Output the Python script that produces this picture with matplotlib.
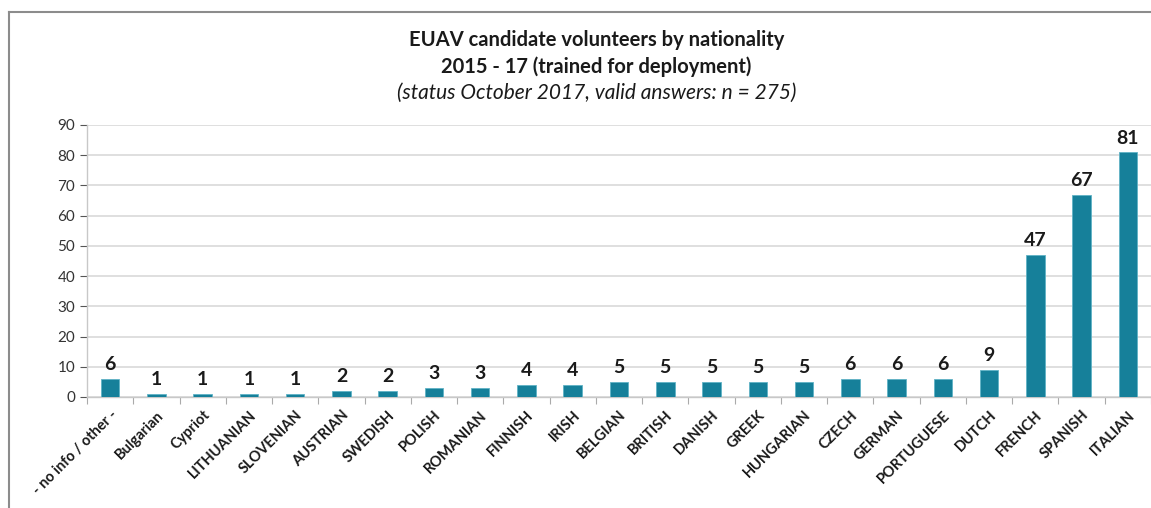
import matplotlib.pyplot as plt
from matplotlib.lines import Line2D
import numpy as np

plt.rcParams['font.family'] = ['Lato', 'DejaVu Sans']

nationalities = ['- no info / other -', 'Bulgarian', 'Cypriot', 'LITHUANIAN', 'SLOVENIAN',
                 'AUSTRIAN', 'SWEDISH', 'POLISH', 'ROMANIAN', 'FINNISH', 'IRISH', 'BELGIAN',
                 'BRITISH', 'DANISH', 'GREEK', 'HUNGARIAN', 'CZECH', 'GERMAN', 'PORTUGUESE',
                 'DUTCH', 'FRENCH', 'SPANISH', 'ITALIAN']
volunteers = [6, 1, 1, 1, 1, 2, 2, 3, 3, 4, 4, 5, 5, 5, 5, 5, 6, 6, 6, 9, 47, 67, 81]
y_ticks = list(range(0, 91, 10))

bar_color = '#16809A'

fig = plt.figure(figsize=(11.51, 5.08), dpi=100)
ax = fig.add_axes([87 / 1151, 1 - 397 / 508, 1 - 87 / 1151, 272 / 508])

x = np.arange(len(nationalities))
ax.bar(x, volunteers, width=0.4, color=bar_color, edgecolor='#5fb3c6', linewidth=0.6, zorder=3)

for xi, v in zip(x, volunteers):
    ax.annotate(str(v), (xi, v), xytext=(0, 4), textcoords='offset points',
                ha='center', va='bottom', fontsize=14, fontweight='bold', color='#1a1a1a')

ax.set_xlim(-0.5, len(nationalities) - 0.5)
ax.set_ylim(0, 90)
ax.set_yticks(y_ticks)
ax.tick_params(axis='y', labelsize=11, colors='#555555', labelcolor='#333333', length=5, width=0.8)
ax.grid(axis='y', color='#d9d9d9', linewidth=1.2, zorder=0)

# category labels centered on bars, tick marks between categories
ax.set_xticks(x)
ax.set_xticklabels(nationalities, rotation=45, ha='right', rotation_mode='anchor',
                   fontsize=10.5, fontweight='bold', color='#1a1a1a')
ax.tick_params(axis='x', length=0, pad=8)
ax.set_xticks(np.arange(-0.5, len(nationalities), 1), minor=True)
ax.tick_params(axis='x', which='minor', length=5, color='#aaaaaa', width=0.8)

for side in ['top', 'right']:
    ax.spines[side].set_visible(False)
ax.spines['left'].set_color('#c8c8c8')
ax.spines['bottom'].set_color('#c8c8c8')
ax.spines['left'].set_linewidth(1.0)
ax.spines['bottom'].set_linewidth(1.0)

fig.text(0.518, 1 - 40 / 508, 'EUAV candidate volunteers by nationality', ha='center', va='center',
         fontsize=14.5, fontweight='bold', color='#1a1a1a')
fig.text(0.518, 1 - 67 / 508, '2015 - 17 (trained for deployment)', ha='center', va='center',
         fontsize=14.5, fontweight='bold', color='#1a1a1a')
fig.text(0.518, 1 - 93 / 508, '(status October 2017, valid answers: n = 275)', ha='center', va='center',
         fontsize=15, fontstyle='italic', color='#1a1a1a')

# outer frame (top and left edges visible)
fig.add_artist(Line2D([8.5 / 1151, 1], [1 - 11.5 / 508, 1 - 11.5 / 508], transform=fig.transFigure,
                      color='#8c8c8c', linewidth=1.5))
fig.add_artist(Line2D([8.5 / 1151, 8.5 / 1151], [0, 1 - 11.5 / 508], transform=fig.transFigure,
                      color='#8c8c8c', linewidth=1.5))

fig.savefig('out.png', dpi=100)
